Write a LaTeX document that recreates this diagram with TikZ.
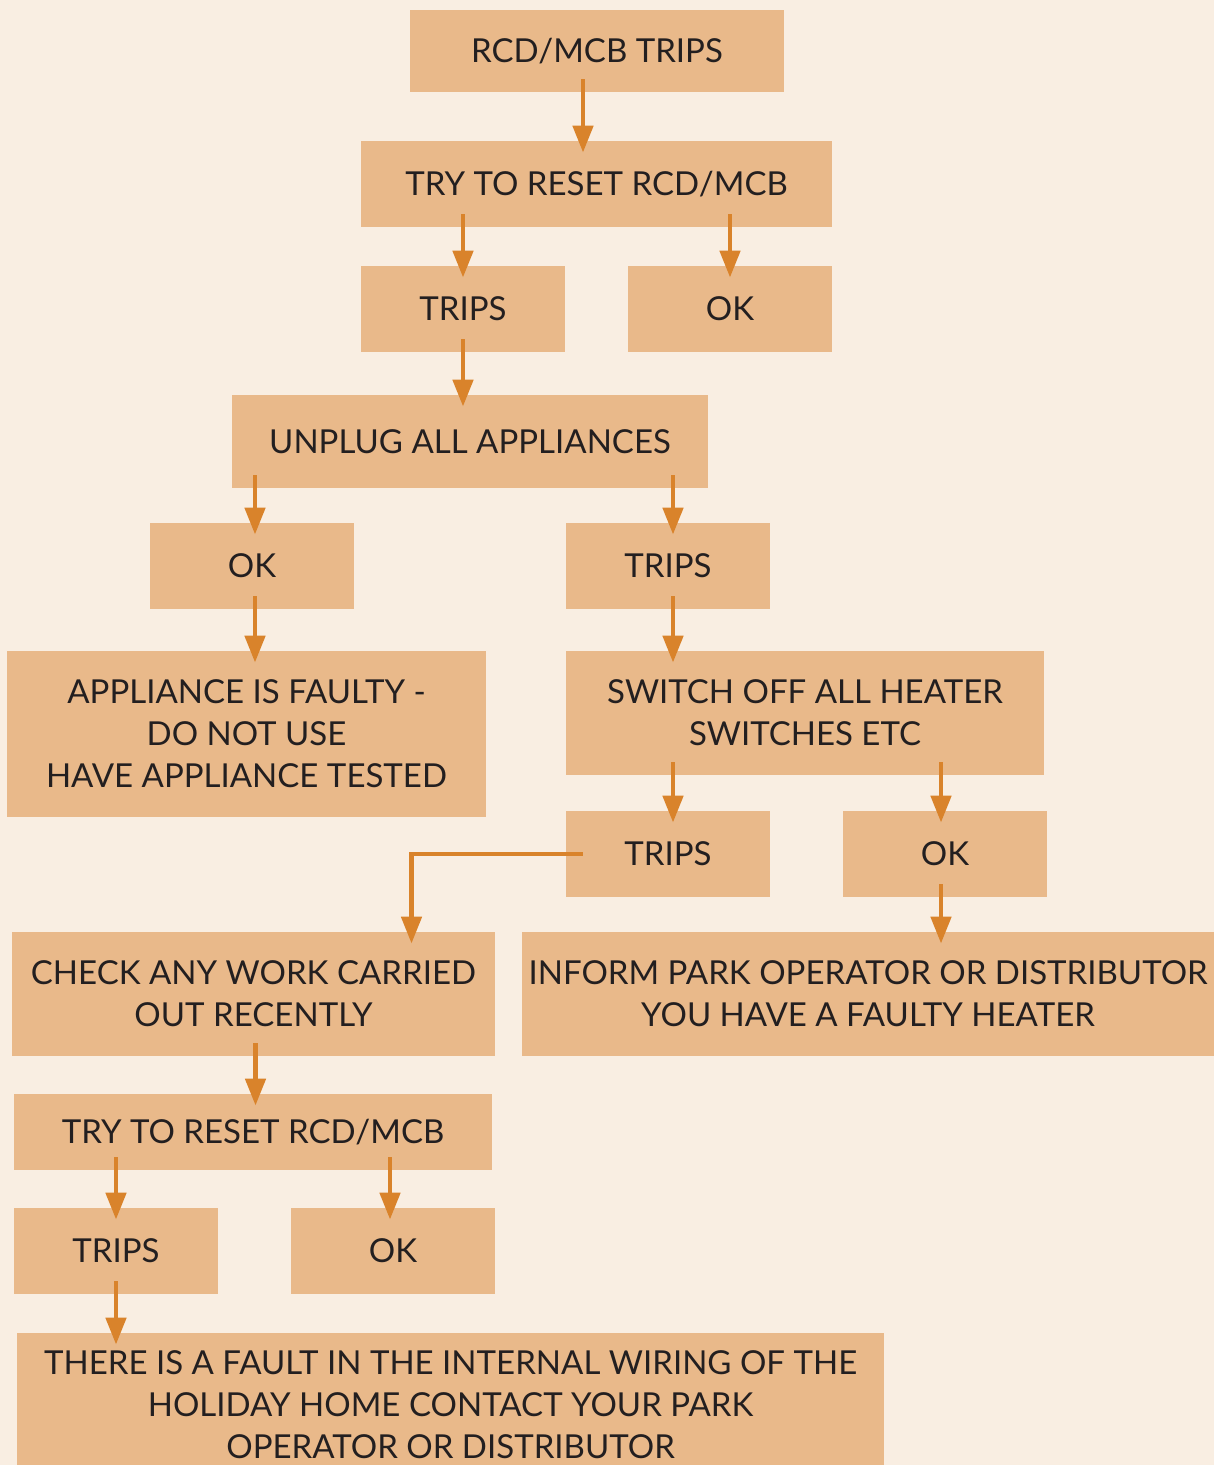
\documentclass[tikz,border=0pt]{standalone}
\usepackage{fontspec}
\setmainfont{Lato}
\usepackage{tikz}
\usetikzlibrary{arrows.meta,calc}
\definecolor{pagebg}{HTML}{F9EEE2}
\definecolor{boxfill}{HTML}{E9B98A}
\definecolor{arrowcol}{HTML}{D9832B}
\definecolor{textcol}{HTML}{231F20}
\begin{document}
\begin{tikzpicture}[
        x=0.5pt,y=-0.5pt,
        block/.style={rectangle,fill=boxfill,inner sep=0pt,align=center,text=textcol,font=\fontsize{16.5}{21}\selectfont},
        small/.style={block,minimum width=102pt,minimum height=43pt},
        arrow/.style={-{Triangle[length=13.5pt,width=10pt]},line width=2.4pt,arrowcol,shorten <=-6.5pt,shorten >=-6pt},
      ]
      \fill[pagebg] (0,0) rectangle (1214,1465);
      \clip (0,0) rectangle (1214,1465);
      \node[block,minimum width=187pt,minimum height=41pt] (start) at (597,51) {RCD/MCB TRIPS};
      \node[block,minimum width=235.5pt,minimum height=43pt] (reset) at (596.5,184) {TRY TO RESET RCD/MCB};
      \node[small] (tripsa) at (463,309) {TRIPS};
      \node[small] (oka) at (730,309) {OK};
      \node[block,minimum width=238pt,minimum height=46.5pt] (unplug) at (470,441.5) {UNPLUG ALL APPLIANCES};
      \node[small] (okb) at (252,566) {OK};
      \node[small] (tripsb) at (668,566) {TRIPS};
      \node[block,minimum width=239.5pt,minimum height=83pt] (faulty) at (246.5,734) {APPLIANCE IS FAULTY -\\DO NOT USE\\HAVE APPLIANCE TESTED};
      \node[block,minimum width=239pt,minimum height=62pt] (heater) at (805,713) {SWITCH OFF ALL HEATER\\SWITCHES ETC};
      \node[small] (tripsc) at (668,854) {TRIPS};
      \node[small] (okc) at (945,854) {OK};
      \node[block,minimum width=241.5pt,minimum height=62pt] (work) at (253.5,994) {CHECK ANY WORK CARRIED\\OUT RECENTLY};
      \node[block,minimum width=346pt,minimum height=62pt] (inform) at (868,994) {INFORM PARK OPERATOR OR DISTRIBUTOR\\YOU HAVE A FAULTY HEATER};
      \node[block,minimum width=239pt,minimum height=38pt] (resetb) at (253,1132) {TRY TO RESET RCD/MCB};
      \node[small] (tripsd) at (116,1251) {TRIPS};
      \node[small] (okd) at (393,1251) {OK};
      \node[block,minimum width=433.5pt,minimum height=72pt] (wiring) at (450.5,1405) {THERE IS A FAULT IN THE INTERNAL WIRING OF THE\\HOLIDAY HOME CONTACT YOUR PARK\\OPERATOR OR DISTRIBUTOR};

      \draw[arrow] ([xshift=-7pt]start.south) -- ([xshift=-7pt]start.south |- reset.north);
      \draw[arrow] (reset.south -| tripsa.north) -- (tripsa.north);
      \draw[arrow] (reset.south -| oka.north) -- (oka.north);
      \draw[arrow] (tripsa.south) -- (tripsa.south |- unplug.north);
      \draw[arrow] ([xshift=1.5pt]unplug.south -| okb.north) -- ([xshift=1.5pt]okb.north);
      \draw[arrow] ([xshift=2.5pt]unplug.south -| tripsb.north) -- ([xshift=2.5pt]tripsb.north);
      \draw[arrow] ([xshift=1.5pt]okb.south) -- ([xshift=1.5pt]okb.south |- faulty.north);
      \draw[arrow] ([xshift=2.5pt]tripsb.south) -- ([xshift=2.5pt]tripsb.south |- heater.north);
      \draw[arrow] ([xshift=2.5pt]heater.south -| tripsc.north) -- ([xshift=2.5pt]tripsc.north);
      \draw[arrow] ([xshift=-2pt]heater.south -| okc.north) -- ([xshift=-2pt]okc.north);
      \draw[arrow] ([xshift=2pt]tripsc.west) -| ([xshift=79pt]work.north);
      \draw[arrow] ([xshift=-2pt]okc.south) -- ([xshift=-2pt]okc.south |- inform.north);
      \draw[arrow] ([xshift=1pt]work.south) -- ([xshift=1pt]work.south |- resetb.north);
      \draw[arrow] (resetb.south -| tripsd.north) -- (tripsd.north);
      \draw[arrow] ([xshift=-1.5pt]resetb.south -| okd.north) -- ([xshift=-1.5pt]okd.north);
      \draw[arrow] (tripsd.south) -- (tripsd.south |- wiring.north);
    \end{tikzpicture}
\end{document}
